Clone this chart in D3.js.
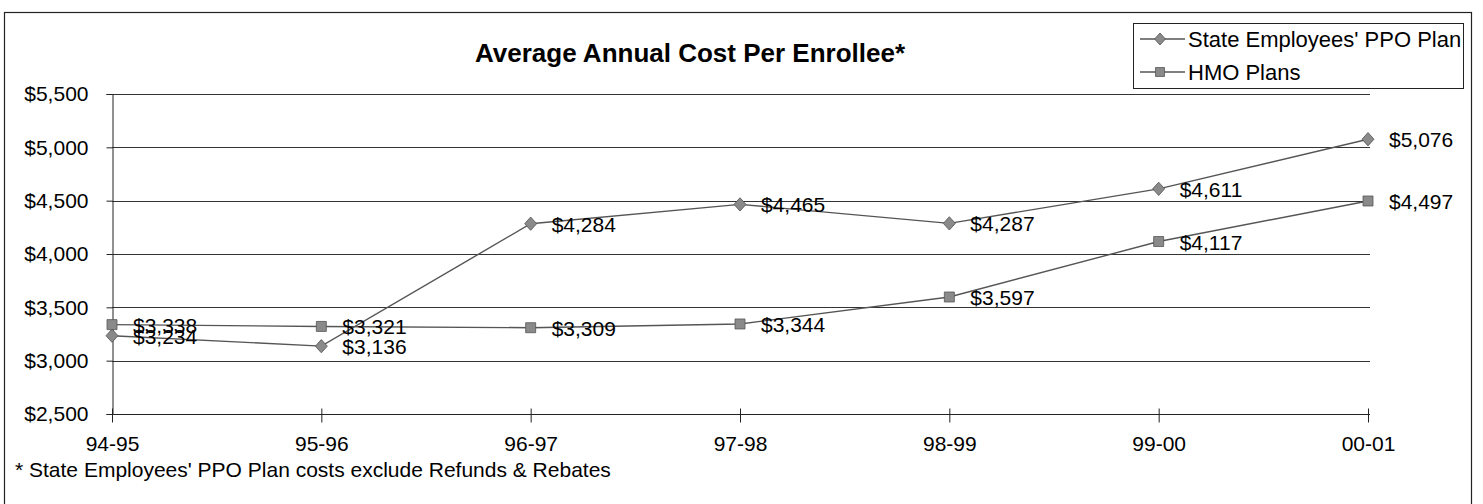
<!DOCTYPE html>
<html>
<head>
<meta charset="utf-8">
<script src="https://cdn.jsdelivr.net/npm/d3@7"></script>
<style>
  body { margin: 0; background: #fff; }
  svg { font-family: "Liberation Sans", Arial, sans-serif; }
</style>
</head>
<body>
<div id="chart"></div>
<script>
const years = ["94-95", "95-96", "96-97", "97-98", "98-99", "99-00", "00-01"];
const ppo = [3234, 3136, 4284, 4465, 4287, 4611, 5076];
const hmo = [3338, 3321, 3309, 3344, 3597, 4117, 4497];
const yTicks = [2500, 3000, 3500, 4000, 4500, 5000, 5500];
const seriesNames = ["State Employees' PPO Plan", "HMO Plans"];

const width = 1483, height = 504;
const margin = { top: 94, right: 115, bottom: 90, left: 112 };
const fmt = d => "$" + d3.format(",")(d);

const svg = d3.select("#chart")
  .append("svg")
  .attr("width", width)
  .attr("height", height);

// outer frame (bottom edge falls outside the picture)
svg.append("rect")
  .attr("x", 4.5).attr("y", 12.5)
  .attr("width", 1467).attr("height", 520)
  .attr("fill", "none")
  .attr("stroke", "#222")
  .attr("stroke-width", 1.2);

const x = d3.scalePoint()
  .domain(years)
  .range([margin.left, width - margin.right]);

const y = d3.scaleLinear()
  .domain([2500, 5500])
  .range([height - margin.bottom, margin.top]);

// gridlines
svg.append("g")
  .selectAll("line")
  .data(yTicks.slice(1))
  .join("line")
  .attr("x1", margin.left).attr("x2", width - margin.right + 2)
  .attr("y1", d => Math.round(y(d)) + 0.5).attr("y2", d => Math.round(y(d)) + 0.5)
  .attr("stroke", "#333");

// y axis
const yAxis = svg.append("g")
  .attr("transform", `translate(${margin.left + 0.5},0)`)
  .call(d3.axisLeft(y).tickValues(yTicks).tickSize(6).tickPadding(18).tickFormat(fmt));
yAxis.select(".domain").attr("stroke", "#222");
yAxis.selectAll(".tick line").attr("stroke", "#222");
yAxis.selectAll("text").attr("font-size", 21).attr("fill", "#000")
  .attr("font-family", "Liberation Sans, Arial, sans-serif");

// x axis
const xAxis = svg.append("g")
  .attr("transform", `translate(0,${Math.round(y(2500)) + 0.5})`)
  .call(d3.axisBottom(x).tickSize(8).tickPadding(14));
xAxis.select(".domain").attr("stroke", "#222").attr("d", `M${margin.left},0H${width - margin.right + 2}`);
xAxis.selectAll(".tick line").attr("y1", -6).attr("stroke", "#222");
xAxis.selectAll("text").attr("font-size", 21).attr("fill", "#000")
  .attr("font-family", "Liberation Sans, Arial, sans-serif");

// title
svg.append("text")
  .attr("x", 690).attr("y", 62)
  .attr("text-anchor", "middle")
  .attr("font-size", 26)
  .attr("font-weight", "bold")
  .text("Average Annual Cost Per Enrollee*");

// footnote
svg.append("text")
  .attr("x", 15).attr("y", 477)
  .attr("font-size", 21)
  .text("* State Employees' PPO Plan costs exclude Refunds & Rebates");

const line = d3.line()
  .x((d, i) => x(years[i]))
  .y(d => y(d));

const series = [
  { name: seriesNames[0], values: ppo, marker: d3.symbolDiamond },
  { name: seriesNames[1], values: hmo, marker: d3.symbolSquare }
];

series.forEach(s => {
  svg.append("path")
    .datum(s.values)
    .attr("fill", "none")
    .attr("stroke", "#555")
    .attr("stroke-width", 1.4)
    .attr("d", line);
});

function marker(g, type, sz) {
  if (type === d3.symbolDiamond) {
    g.attr("d", d3.symbol().type(d3.symbolDiamond).size(sz))
      .attr("transform", function () { return d3.select(this).attr("transform") + " scale(1.25,0.8)"; });
  } else {
    g.attr("d", d3.symbol().type(d3.symbolSquare).size(sz));
  }
}

series.forEach(s => {
  const sz = s.marker === d3.symbolSquare ? 100 : 80;
  const mk = svg.append("g")
    .selectAll("path")
    .data(s.values)
    .join("path")
    .attr("transform", (d, i) => `translate(${x(years[i])},${y(d)})`)
    .attr("fill", "#8a8a8a")
    .attr("stroke", "#555")
    .attr("stroke-width", 0.8);
  marker(mk, s.marker, sz);

  svg.append("g")
    .selectAll("text")
    .data(s.values)
    .join("text")
    .attr("x", (d, i) => x(years[i]) + 21)
    .attr("y", d => y(d) + 8)
    .attr("font-size", 21)
    .text(fmt);
});

// legend
const lg = svg.append("g").attr("transform", "translate(1133,23)");
lg.append("rect")
  .attr("x", 0.5).attr("y", 0.5)
  .attr("width", 330).attr("height", 65)
  .attr("fill", "#fff")
  .attr("stroke", "#222");
series.forEach((s, i) => {
  const ly = 16 + i * 33;
  lg.append("line")
    .attr("x1", 7).attr("x2", 52)
    .attr("y1", ly).attr("y2", ly)
    .attr("stroke", "#555").attr("stroke-width", 1.4);
  const mk = lg.append("path")
    .attr("transform", `translate(27,${ly})`)
    .attr("fill", "#8a8a8a")
    .attr("stroke", "#555")
    .attr("stroke-width", 0.8);
  marker(mk, s.marker, s.marker === d3.symbolSquare ? 80 : 65);
  lg.append("text")
    .attr("x", 55).attr("y", ly + 8)
    .attr("font-size", 22)
    .text(s.name);
});
</script>
</body>
</html>
